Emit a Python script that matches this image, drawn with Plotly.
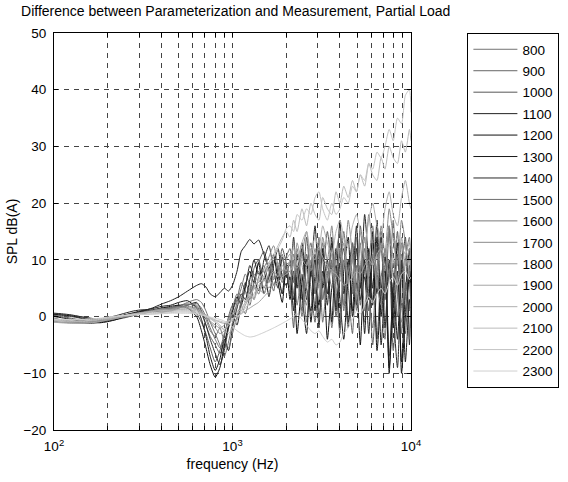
import plotly.graph_objects as go

freq = [100, 110, 125, 140, 160, 180, 200, 225, 250, 280, 315, 355, 400,
        450, 500, 560, 630, 670, 710, 750, 800, 850, 900, 950, 1000, 1060, 1120, 1180,
        1250, 1320, 1400, 1500, 1600, 1700, 1800, 1900, 2000,
        2100, 2200, 2300, 2450, 2600, 2750, 2900, 3050, 3200, 3400, 3600, 3800, 4000,
        4200, 4450, 4700, 4950, 5200, 5500, 5800, 6100, 6450, 6800, 7150, 7550, 7950,
        8400, 8850, 9300, 9800, 10000]

spl_800 = [0.5, 0.4, 0.2, 0, -0.3, -0.5, -0.5, -0.3, 0, 0.3, 0.6, 0.9, 1.2,
           1.4, 1.8, 2.5, 3.0, 2.5, 1.0, -1.0, -3.0, -5.0, -7.0, -4.5, -1.0, 2.5, 5.0, 7.5,
           5.5, 3.0, 7.0, 9.0, 6.0, 10.0, 7.5, 4.0, 8.0,
           4, 10, 2, 7.5, -1, 9, 4, 12, 3, 8, -2, 6, 11, 1, 9.5, 4, 14, 6, -1, 10,
           3, 12, 5, -4, 8, 2, 11, -3, 6, 1, 5]
spl_900 = [0.3, 0.2, 0, -0.3, -0.6, -0.8, -0.7, -0.4, -0.1, 0.2, 0.5, 0.9, 1.3,
           1.5, 2.0, 2.2, 1.8, 0.5, -1.5, -3.5, -5.0, -6.5, -4.5, -2.0, 1.0, 3.0, 6.0, 4.5,
           2.0, 6.0, 9.5, 11.5, 8.0, 4.5, 9.0, 7.0, 10.5,
           12, 6, 9, 1, 11, 5, -1, 8, 13, 4, 10, 0, 7, 15, 5, -3, 9, 2, 12, 7,
           -5, 6, 14, 3, 9, -6, 4, 13, 1, 8, 3]
spl_1000 = [0.2, 0, -0.3, -0.6, -0.9, -1.0, -0.8, -0.5, -0.2, 0.2, 0.6, 1.0, 1.5,
            1.6, 1.8, 1.5, 0.5, -1.0, -3.0, -5.5, -8.0, -6.0, -3.5, 0, 2.0, -0.5, 3.0, 6.0,
            4.0, 8.5, 10.0, 6.5, 9.0, 5.5, 8.0, 12.0, 9.5,
            6, -2, 9, 3, 14, 7, 10, 0, 6, 15, 8, 2, 12, 6, -2, 11, 3, 16, 8, 1,
            13, -4, 7, 10, -7, 5, 15, 2, -3, 9, 6]
spl_1100 = [-0.3, -0.6, -0.9, -1.1, -1.2, -1.0, -0.6, -0.1, 0.3, 0.6, 1.0, 1.5, 2.2,
            2.8, 3.5, 4.5, 5.5, 5.8, 5.2, 4.0, 3.5, 4.2, 5.0, 4.5, 5.5, 8.0, 11.5, 12.5,
            13.6, 12.8, 13.5, 11.0, 8.5, 10.5, 7.5, 4.0, 9.0,
            9, 14, 5, 12, 3, 8, 16, 6, 11, 2, 13, 7, 17, 4, 10, 1, 12, 5, 18, 9,
            2, 14, -5, 6, 16, -2, 8, -8, 4, 12, 2]
spl_1200 = [0, -0.2, -0.5, -0.8, -1.0, -1.1, -0.9, -0.5, 0, 0.5, 0.9, 1.2, 1.5,
            1.8, 2.0, 1.5, 0, -2.5, -5.5, -8.5, -10.7, -9.0, -5.0, -1.5, 1.0, 3.5, 2.0, 5.5,
            8.0, 6.0, 9.5, 4.0, 7.0, 11.0, 6.0, 2.5, 9.0,
            3, 8, -3, 6, 10, -1, 7, 2, 12, -4, 5, 9, -2, 8, 14, 0, 6, -5, 10, 3,
            15, -6, 4, 11, -9, 2, 13, -10, 0, 7, -2]
spl_1300 = [0.4, 0.3, 0.1, -0.2, -0.5, -0.6, -0.4, -0.1, 0.3, 0.7, 1.1, 1.4, 1.8,
            2.0, 2.5, 2.8, 1.5, -0.5, -3.5, -7.0, -9.5, -7.5, -4.0, -6.0, -2.0, 1.5, 4.0, 3.0,
            6.5, 10.0, 7.5, 8.0, 3.5, 9.0, 12.0, 7.0, 5.5,
            7, 1, 11, 4, -3, 9, 1, 13, 5, 10, -1, 12, 3, -4, 7, 13, 2, 9, -3, 12,
            5, 17, 0, 9, -10, 6, -4, 10, -8, 3, 0]
spl_1400 = [0.6, 0.5, 0.3, 0, -0.3, -0.4, -0.2, 0.2, 0.6, 1.0, 1.2, 1.0, 0.8,
            1.0, 1.5, 2.0, 2.5, 1.0, -1.5, -4.0, -6.5, -8.5, -6.0, -2.0, 0.5, -1.5, 2.5, 5.0,
            9.0, 7.0, 4.5, 10.0, 12.5, 8.0, 5.0, 10.5, 7.0,
            10, 3, 7, 13, 5, 1, 11, -2, 8, 4, 14, 1, 9, 12, -1, 6, 16, 3, 7, -3,
            11, 4, 15, -2, 10, 1, -9, 8, 14, -5, 4]
spl_1500 = [-0.5, -0.7, -0.9, -1.0, -1.0, -0.8, -0.5, -0.2, 0.1, 0.4, 0.7, 1.0, 1.2,
            1.3, 1.6, 2.0, 2.3, 1.5, 0, -2.0, -4.0, -5.5, -3.0, -0.5, 1.5, 4.0, 2.0, 0.5,
            3.5, 6.0, 8.0, 5.0, 7.5, 10.5, 8.5, 6.0, 9.0,
            5, 11, 8, 0, 9, 13, 4, 10, -1, 7, 12, 5, -3, 10, 6, 13, 1, 8, 14, 4,
            -2, 9, 12, 3, 15, 7, 0, 11, 5, -4, 6]
spl_1600 = [-0.4, -0.6, -0.8, -0.9, -0.9, -0.7, -0.4, -0.1, 0.2, 0.5, 0.8, 1.1, 1.4,
            1.5, 1.8, 2.2, 2.0, 1.0, -0.5, -2.5, -3.5, -2.0, -4.5, -5.5, -3.0, 0, 2.5, 4.5,
            3.0, 5.5, 4.0, 7.0, 9.5, 6.5, 8.0, 11.0, 7.5,
            8, 4, 12, 6, 2, 10, 7, 14, 3, 9, 5, 11, 15, 2, 8, 10, 5, 13, 1, 9,
            16, 6, 2, 12, 7, 17, 4, -1, 10, 14, 8]
spl_1700 = [-0.8, -1.0, -1.1, -1.2, -1.1, -0.9, -0.6, -0.3, 0, 0.3, 0.6, 0.9, 1.2,
            1.3, 1.6, 1.8, 1.5, 0.8, 0, -1.0, -2.0, -3.0, -2.5, -1.0, 0.5, 2.0, 3.5, 2.5,
            5.0, 7.5, 6.0, 8.5, 10.5, 12.5, 9.0, 7.0, 9.5,
            9, 13, 7, 11, 15, 8, 12, 5, 14, 10, 16, 7, 12, 9, 17, 11, 6, 15, 10, 18,
            12, 8, 16, 11, 19, 14, 9, 17, 13, 7, 12]
spl_1800 = [-0.9, -1.0, -1.1, -1.1, -1.0, -0.8, -0.5, -0.2, 0.1, 0.4, 0.7, 1.0, 1.3,
            1.2, 1.5, 1.6, 1.3, 0.6, 0, -0.8, -1.5, -2.0, -1.5, -0.5, 0.5, 1.0, 0.5, 2.0,
            3.5, 5.0, 4.0, 6.5, 5.0, 7.0, 9.5, 8.0, 10.0,
            11, 7, 13, 9, 5, 12, 8, 3, 10, 6, 11, 4, 8, 13, 6, 10, 3, 9, 14, 7,
            11, 5, 13, 8, 16, 10, 6, 14, 9, 12, 10]
spl_1900 = [-1.0, -1.1, -1.2, -1.2, -1.1, -0.9, -0.6, -0.3, 0, 0.3, 0.6, 0.9, 1.1,
            1.1, 1.3, 1.4, 1.2, 0.8, 0.3, -0.2, -0.6, -1.0, -1.2, -1.0, -0.5, 0, 0.5, 1.0,
            1.5, 2.0, 2.5, 3.5, 4.5, 5.5, 6.0, 7.0, 7.5,
            8, 9, 8.5, 10, 9, 11, 10, 12, 10.5, 9, 8, 7.5, 6.5, 5.5, 6, 7, 8, 7.5, 9, 10,
            9, 11, 12, 10.5, 13, 12, 14, 12.5, 11, 13, 12]
spl_2000 = [-0.7, -0.8, -0.9, -0.9, -0.8, -0.6, -0.4, -0.1, 0.2, 0.5, 0.7, 0.9, 1.0,
            1.0, 1.2, 1.2, 1.0, 0.6, 0.2, -0.3, -0.8, -1.5, -2.5, -3.0, -2.0, -0.5, 1.0, 2.5,
            4.0, 3.0, 5.0, 4.0, 6.5, 8.0, 7.0, 9.0, 8.0,
            10, 12, 9, 13, 15, 11, 14, 12, 16, 13, 11, 15, 17, 14, 12, 16, 18, 15, 13, 17,
            20, 16, 14, 19, 22, 18, 16, 21, 24, 20, 19]
spl_2100 = [-0.6, -0.7, -0.8, -0.8, -0.7, -0.5, -0.3, 0, 0.2, 0.4, 0.6, 0.7, 0.8,
            0.9, 1.0, 1.0, 0.8, 0.5, 0.1, -0.4, -1.0, -1.8, -2.2, -1.5, -0.5, 0.5, 1.5, 2.5,
            3.5, 5.0, 6.5, 8.0, 9.5, 11.0, 12.5, 14.0, 15.0,
            14, 17, 15, 19, 16, 20, 18, 17, 21, 19, 18, 22, 20, 23, 21, 24, 22, 25, 23, 27,
            25, 24, 28, 26, 30, 28, 27, 31, 29, 33, 31]
spl_2200 = [-0.5, -0.6, -0.6, -0.6, -0.5, -0.4, -0.2, 0, 0.2, 0.3, 0.4, 0.5, 0.6,
            0.7, 0.8, 0.8, 0.6, 0.3, 0, -0.3, -0.6, -0.8, -1.0, -0.8, -0.4, 0, 0.5, 1.5,
            2.5, 4.0, 5.5, 7.0, 9.0, 10.5, 12.0, 13.5, 15.5,
            16, 15, 18, 17, 19, 18, 21, 22, 19, 17, 20, 18, 19, 21, 20, 23, 22, 25, 24, 27,
            26, 29, 28, 30, 33, 31, 35, 34, 39, 40, 36]
spl_2300 = [-0.4, -0.5, -0.5, -0.5, -0.4, -0.3, -0.1, 0.1, 0.2, 0.3, 0.4, 0.4, 0.5,
            0.6, 0.6, 0.6, 0.5, 0.3, 0.1, -0.1, -0.3, -0.5, -0.8, -1.2, -1.8, -2.5, -3.0, -3.4,
            -3.6, -3.5, -3.2, -2.8, -2.4, -2.0, -1.6, -1.2, -0.8,
            -0.4, 0, 0.5, -0.5, -1.5, -2.5, -3, -2.5, -3.5, -4.5, -4, -5, -4.5, -3, -2, -0.5,
            1, 0.5, 2, 3.5, 2.5, 4, 5, 4, 6, 7, 5.5, 7.5, 8, 6.5, 7]

labels = ["800", "900", "1000", "1100", "1200", "1300", "1400", "1500",
          "1600", "1700", "1800", "1900", "2000", "2100", "2200", "2300"]
series = [spl_800, spl_900, spl_1000, spl_1100, spl_1200, spl_1300, spl_1400, spl_1500,
          spl_1600, spl_1700, spl_1800, spl_1900, spl_2000, spl_2100, spl_2200, spl_2300]
colors = ["#737373", "#666666", "#575757", "#222222", "#111111", "#1a1a1a", "#2a2a2a", "#6e6e6e",
          "#7a7a7a", "#8a8a8a", "#999999", "#a6a6a6", "#b0b0b0", "#bbbbbb", "#c4c4c4", "#cfcfcf"]

for s in series:
    assert len(s) == len(freq), len(s)

fig = go.Figure()
for lab, ys, col in zip(labels, series, colors):
    fig.add_trace(go.Scatter(
        x=freq, y=ys, mode="lines", name=lab, legendgroup=lab,
        line=dict(color=col, width=1, shape="spline", smoothing=0.6),
    ))

xt = []
for dec in (100, 1000):
    for k in range(1, 10):
        xt.append(dec * k)
xt.append(10000)
xtext = ["10<sup>2</sup>" if v == 100 else "10<sup>3</sup>" if v == 1000 else
         "10<sup>4</sup>" if v == 10000 else "" for v in xt]

font = "Liberation Sans, Arial, sans-serif"
fig.update_layout(
    width=568, height=482,
    margin=dict(l=54, r=157, t=33, b=52, autoexpand=False),
    paper_bgcolor="white", plot_bgcolor="white",
    font=dict(family=font, size=13.5, color="black"),
    title=dict(text="Difference between Parameterization and Measurement, Partial Load",
               x=0.415, xanchor="center", y=0.976, yanchor="middle",
               font=dict(size=14, family=font, color="black")),
    legend=dict(x=1.158, y=1, xanchor="left", yanchor="top",
                bordercolor="black", borderwidth=1, bgcolor="white",
                font=dict(size=13.5, family=font), tracegroupgap=0.9,
                traceorder="grouped", itemwidth=44),
    showlegend=True,
)
fig.update_xaxes(
    type="log", range=[2, 4], tickmode="array", tickvals=xt, ticktext=xtext,
    showline=True, linecolor="black", linewidth=1, mirror="ticks",
    ticks="inside", ticklen=4, tickcolor="black",
    showgrid=True, gridcolor="#444444", gridwidth=1, griddash="5px,5px",
    tickfont=dict(size=13.5), zeroline=False, ticklabelstandoff=4,
    title=dict(text="frequency (Hz)", standoff=5, font=dict(size=14)),
)
fig.update_yaxes(
    range=[-20, 50], tickmode="array", tickvals=[-20, -10, 0, 10, 20, 30, 40, 50],
    showline=True, linecolor="black", linewidth=1, mirror="ticks",
    ticks="inside", ticklen=4, tickcolor="black",
    showgrid=True, gridcolor="#444444", gridwidth=1, griddash="5px,5px",
    zeroline=False, tickfont=dict(size=13.5), ticklabelstandoff=4,
    title=dict(text="SPL dB(A)", standoff=2, font=dict(size=14)),
)

fig.write_html("out.html")
